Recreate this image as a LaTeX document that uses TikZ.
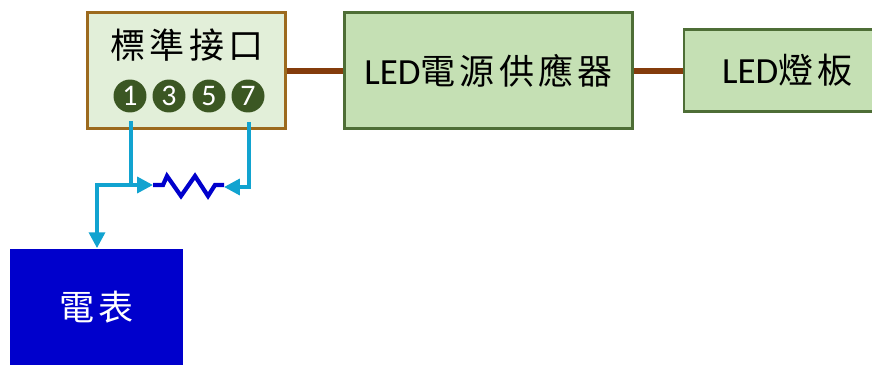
\documentclass[tikz,border=0pt]{standalone}
\usepackage{fontspec}
\setmainfont{Carlito}
\newfontfamily\cjk[LetterSpace=12,Scale=0.95]{Noto Sans CJK TC}
\usetikzlibrary{arrows.meta}
\definecolor{boxgreen}{HTML}{C5E0B4}
\definecolor{boxline}{HTML}{4E6E36}
\definecolor{palegreen}{HTML}{E2EFD9}
\definecolor{ochre}{HTML}{9C6A1E}
\definecolor{pinfill}{HTML}{3B5723}
\definecolor{wirecol}{HTML}{11A3D0}
\definecolor{feedcol}{HTML}{843C0C}
\definecolor{meterblue}{HTML}{0000CC}

\begin{document}
\begin{tikzpicture}[
        x=0.02cm,
        y=-0.02cm,
        every node/.style={font=\fontsize{21}{24}\selectfont, inner sep=0pt},
        block/.style={draw=boxline, fill=boxgreen, line width=1.2pt},
        pin/.style={circle, fill=pinfill, text=white, minimum size=0.66cm,
            font=\fontsize{17}{18}\selectfont},
        signal/.style={draw=wirecol, line width=2.1pt},
        feed/.style={draw=feedcol, line width=3.4pt}
    ]
    \clip (0,0) rectangle (872,365);
    \node[draw=ochre, fill=palegreen, line width=1.2pt, minimum width=3.96cm, minimum height=2.32cm] (std) at (186.5,70.5) {};
    \node (stdlabel) at (187,45) {\cjk 標準接口};
    \node[pin] (pin1) at (130,96) {1};
    \node[pin] (pin3) at (169,96) {3};
    \node[pin] (pin5) at (209,96) {5};
    \node[pin] (pin7) at (248,96) {7};
    \node[block, minimum width=5.76cm, minimum height=2.32cm] (psu) at (488.5,70.5) {LED\cjk 電源供應器};
    \node[block, minimum width=4.4cm, minimum height=1.64cm, text width=4.4cm, align=left] (panel) at (794,70.5) {\hspace{0.76cm}LED\cjk 燈板};
    \node[fill=meterblue, text=white, minimum width=3.46cm, minimum height=2.34cm] (meter) at (96.5,307) {\cjk 電表};
    \coordinate (tap1) at (131,121);
    \coordinate (tap7) at (249,122);
    \coordinate (join1) at (131,185);
    \coordinate (join7) at (249,187);
    \coordinate (bend) at (97,185);
    \coordinate (resl) at (153,185);
    \coordinate (resr) at (224,187);
    \draw[feed] (std.east |- 0,71) -- (psu.west |- 0,71);
    \draw[feed] (psu.east |- 0,71) -- (panel.west |- 0,71);
    \draw[signal] (tap1) -- (join1);
    \draw[signal, -{Triangle[length=9pt,width=9pt]}] (tap7) -- (join7) -- (resr);
    \draw[signal, -{Triangle[length=9pt,width=9pt]}] (bend) -- (resl);
    \draw[signal, -{Triangle[length=9pt,width=9pt]}] (join1) -- (bend) -- (meter.north -| bend);
    \draw[meterblue, line width=2.4pt] (resl) -- (163,185) -- (167,176) -- (181,196) -- (195,176) -- (208,196) -- (215,185) -- (resr |- resl);
\end{tikzpicture}
\end{document}
